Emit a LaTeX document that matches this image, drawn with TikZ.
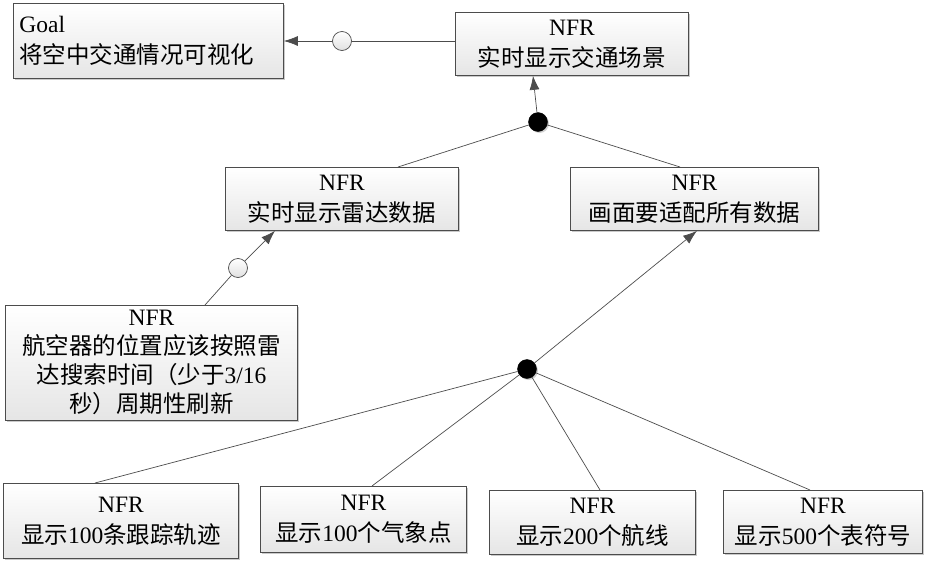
\documentclass[tikz,border=0pt]{standalone}
\usepackage{fontspec}
\setmainfont{Liberation Serif}
\newfontfamily\cjk{Noto Sans CJK SC}
\newcommand{\zh}[1]{{\cjk #1}}
\usetikzlibrary{shadows,arrows.meta}
\definecolor{edgegray}{gray}{0.3}
\tikzset{
  box/.style={draw=edgegray, line width=0.8pt, top color=white, bottom color=black!10,
    drop shadow={shadow xshift=2pt, shadow yshift=-2pt, fill=black!35, opacity=0.6},
    align=center, inner sep=1pt, anchor=north west,
    font=\fontsize{23.5}{31}\selectfont},
  conn/.style={draw=edgegray, line width=0.7pt},
  arr/.style={conn, -{Latex[length=14pt,width=10pt]}},
  opencirc/.style={circle, draw=edgegray, line width=0.7pt, top color=white, bottom color=black!12, minimum size=19pt, inner sep=0pt},
  fullcirc/.style={circle, draw=black, fill=black, minimum size=19pt, inner sep=0pt,
    drop shadow={shadow xshift=1.5pt, shadow yshift=-1.5pt, fill=black!30, opacity=0.6}},
}
\begin{document}
\begin{tikzpicture}[x=1pt,y=-1pt]
\useasboundingbox (0,0) rectangle (930,576);
% boxes
\node[box, align=left, minimum width=270pt, minimum height=75pt, text width=258pt] (goal) at (13,3) {Goal\\\zh{将空中交通情况可视化}};
\node[box, minimum width=233pt, minimum height=63pt] (top) at (455,12) {NFR\\\zh{实时显示交通场景}};
\node[box, minimum width=233pt, minimum height=63pt] (radar) at (225,167) {NFR\\\zh{实时显示雷达数据}};
\node[box, minimum width=248pt, minimum height=63pt] (fit) at (570,167) {NFR\\\zh{画面要适配所有数据}};
\node[box, minimum width=292pt, minimum height=115pt, font=\fontsize{23.5}{29}\selectfont] (pos) at (5,305) {NFR\\\zh{航空器的位置应该按照雷}\\\zh{达搜索时间（少于}3/16\\\zh{秒）周期性刷新}};
\node[box, minimum width=235pt, minimum height=75pt] (b1) at (3,483) {NFR\\\zh{显示}100\zh{条跟踪轨迹}};
\node[box, minimum width=206pt, minimum height=66pt] (b2) at (260,486) {NFR\\\zh{显示}100\zh{个气象点}};
\node[box, minimum width=206pt, minimum height=64pt] (b3) at (489,490) {NFR\\\zh{显示}200\zh{个航线}};
\node[box, minimum width=199pt, minimum height=63pt] (b4) at (723,490) {NFR\\\zh{显示}500\zh{个表符号}};
% circles
\node[opencirc] (c1) at (342,41) {};
\node[fullcirc] (k1) at (538,122) {};
\node[opencirc] (c2) at (238,268) {};
\node[fullcirc] (k2) at (527,369) {};
% connectors
\draw[conn] (top.west |- c1) -- (c1);
\draw[arr] (c1) -- (goal.east |- c1);
\draw[arr] (k1) -- ([xshift=78pt]top.south west);
\draw[conn] (k1) -- ([xshift=173pt]radar.north west);
\draw[conn] (k1) -- ([xshift=110pt]fit.north west);
\draw[conn] ([xshift=200pt]pos.north west) -- (c2);
\draw[arr] (c2) -- ([xshift=50pt]radar.south west);
\draw[arr] (k2) -- ([xshift=127pt]fit.south west);
\draw[conn] (k2) -- ([xshift=92pt]b1.north west);
\draw[conn] (k2) -- ([xshift=112pt]b2.north west);
\draw[conn] (k2) -- ([xshift=111pt]b3.north west);
\draw[conn] (k2) -- ([xshift=87pt]b4.north west);
\end{tikzpicture}
\end{document}
